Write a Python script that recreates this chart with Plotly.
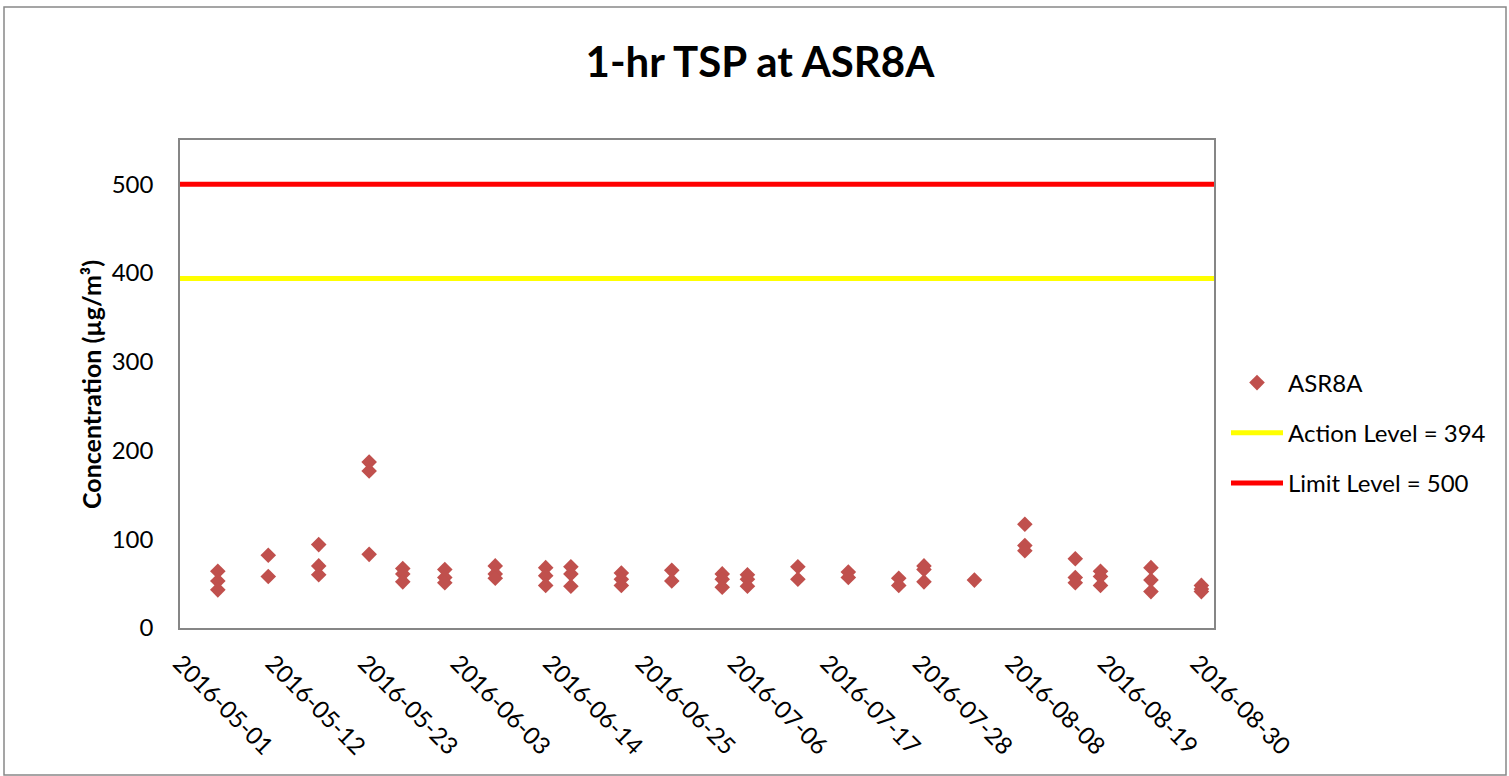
import plotly.graph_objects as go

# ---- data ----
sample_days = ["2016-05-05", "2016-05-11", "2016-05-17", "2016-05-23", "2016-05-27",
               "2016-06-01", "2016-06-07", "2016-06-13", "2016-06-16", "2016-06-22",
               "2016-06-28", "2016-07-04", "2016-07-07", "2016-07-13", "2016-07-19",
               "2016-07-25", "2016-07-28", "2016-08-03", "2016-08-09", "2016-08-15",
               "2016-08-18", "2016-08-24", "2016-08-30"]
readings = [[64, 53, 43], [82, 58], [94, 70, 60], [187, 177, 83], [67, 61, 52],
            [66, 57, 51], [70, 61, 56], [68, 59, 48], [69, 61, 47], [62, 55, 48],
            [65, 53], [61, 55, 46], [60, 55, 47], [69, 55], [63, 57],
            [56, 48], [70, 66, 52], [54], [117, 93, 87], [78, 57, 51],
            [64, 58, 48], [68, 54, 41], [48, 44, 41]]
action_level = 394
limit_level = 500
axis_start = "2016-05-01"
axis_end = "2016-09-01"

x_pts, y_pts = [], []
for d, vals in zip(sample_days, readings):
    for v in vals:
        x_pts.append(d + " 12:00")
        y_pts.append(v)

FONT = "Lato"

fig = go.Figure()
fig.add_trace(go.Scatter(
    x=x_pts, y=y_pts, mode="markers", name="ASR8A",
    marker=dict(symbol="diamond", size=12, color="#C0504D"),
    legendgroup="a"))
fig.add_trace(go.Scatter(
    x=[axis_start, axis_end], y=[action_level, action_level], mode="lines",
    name="Action Level = %d" % action_level,
    line=dict(color="#FFFF00", width=5), legendgroup="b"))
fig.add_trace(go.Scatter(
    x=[axis_start, axis_end], y=[limit_level, limit_level], mode="lines",
    name="Limit Level = %d" % limit_level,
    line=dict(color="#FF0000", width=5), legendgroup="c"))

L, R, T, B = 180, 295, 140, 148
W, H = 1509, 776
pw, ph = W - L - R, H - T - B

def px(x):
    return (x - L) / pw

def py(y):
    return (H - B - y) / ph

fig.update_layout(
    width=W, height=H,
    margin=dict(l=L, r=R, t=T, b=B),
    paper_bgcolor="white", plot_bgcolor="white",
    font=dict(family=FONT, color="black", size=24),
    title=dict(text="<b>1-hr TSP at ASR8A</b>", x=760 / W, xref="container", xanchor="center",
               y=1 - 62 / H, yref="container", yanchor="middle",
               font=dict(size=42, family=FONT)),
    showlegend=True,
    legend=dict(x=px(1226), y=py(433), xanchor="left", yanchor="middle",
                font=dict(size=24, family=FONT), tracegroupgap=16, itemwidth=52,
                bgcolor="rgba(0,0,0,0)"),
    xaxis=dict(type="date", range=[axis_start, axis_end],
               tick0=axis_start, dtick=11 * 86400000, tickformat="%Y-%m-%d",
               tickangle=45, showgrid=False, zeroline=False,
               showline=True, linecolor="#868686", linewidth=1.5, mirror=True,
               ticks="", ticklabelstandoff=10, tickfont=dict(size=24)),
    yaxis=dict(range=[0, 550], dtick=100, showgrid=False, zeroline=False,
               showline=True, linecolor="#868686", linewidth=1.5, mirror=True,
               ticks="", ticklabelstandoff=20, tickfont=dict(size=24)),
    annotations=[dict(text="<b>Concentration (µg/m³)</b>", textangle=-90,
                      xref="paper", yref="paper", x=px(91), y=py(385),
                      xanchor="center", yanchor="middle", showarrow=False,
                      font=dict(size=25, family=FONT))],
    shapes=[dict(type="rect", xref="paper", yref="paper",
                 x0=px(4), x1=px(1506), y0=py(775), y1=py(7),
                 line=dict(color="#888888", width=1.5), layer="below")],
)

fig.write_html("out.html", config={"displayModeBar": False},
               post_script="document.body.style.margin='0';")
